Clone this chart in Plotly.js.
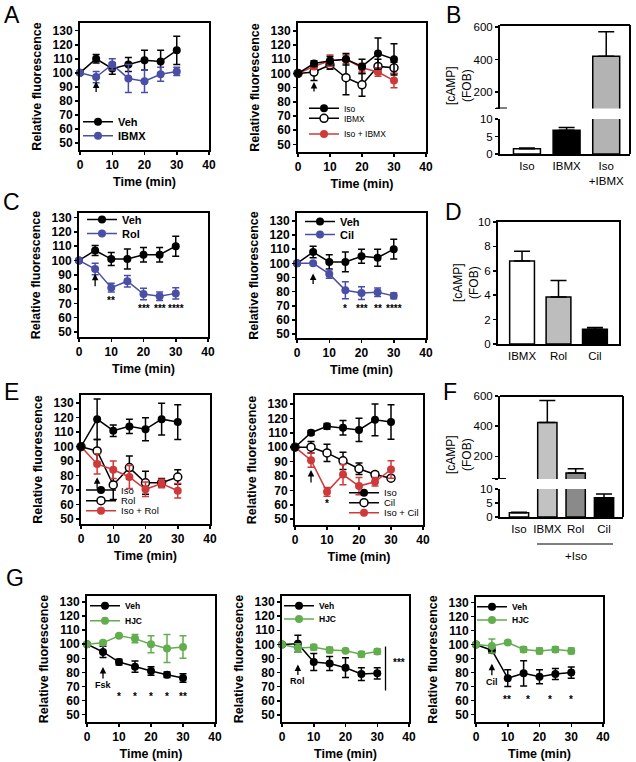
<!DOCTYPE html>
<html><head><meta charset="utf-8">
<script src="https://cdn.plot.ly/plotly-3.0.1.min.js"></script>
<style>html,body{margin:0;padding:0;background:#fff}</style>
</head><body><div id="chart" style="width:636px;height:762px"></div>
<script>
const W = 636, H = 762;
const FONT = 'Liberation Sans, Arial, Helvetica, sans-serif';
const BLUE = '#4a4fa6', RED = '#d0393a', GREEN = '#62ad4e';

const time = [0, 5, 10, 15, 20, 25, 30];

// A (left): Veh vs IBMX
const aVeh = [100, 110, 103, 106, 109, 108, 116];
const aVehErr = [0, 3, 4, 5, 7, 8, 10];
const aIbmx = [100, 97, 106, 96, 94, 99, 101];
const aIbmxErr = [0, 4, 4, 10, 8, 5, 3];
// A (right): Iso, IBMX, Iso + IBMX
const arIso = [100, 107, 109, 110, 105, 114, 110];
const arIsoErr = [0, 2, 3, 4, 5, 11, 11];
const arIbmx = [100, 101, 106, 97, 92, 105, 104];
const arIbmxErr = [0, 6, 3, 12, 8, 5, 4];
const arIsoIbmx = [100, 105, 109, 110, 104, 101, 95];
const arIsoIbmxErr = [0, 2, 4, 3, 3, 3, 5];
// B
const bCats = ['Iso', 'IBMX', 'Iso<br>+IBMX'];
const bVals = [1.5, 6.8, 420];
const bErr = [0.2, 0.8, 150];
// C (left): Veh vs Rol
const cVeh = [100, 107, 101, 101, 104, 104, 110];
const cVehErr = [0, 3.5, 4.5, 7, 5, 5, 7];
const cRol = [100, 94, 81, 85.5, 76.5, 75, 77];
const cRolErr = [0, 4, 3, 4, 4, 3, 4];
const cStarX = [10, 20, 25, 30];
const cStarText = ['**', '***', '***', '****'];
// C (right): Veh vs Cil
const crVeh = [100, 108, 101, 101, 105, 104, 110];
const crVehErr = [0, 4, 5, 7, 5, 6, 7];
const crCil = [100, 100, 92.5, 81, 79, 79.5, 77];
const crCilErr = [0, 0, 3, 6, 4.5, 3, 2];
const crStarX = [15, 20, 25, 30];
const crStarText = ['*', '***', '**', '****'];
// D
const dCats = ['IBMX', 'Rol', 'Cil'];
const dVals = [6.8, 3.85, 1.2];
const dErr = [0.8, 1.35, 0.15];
// E (left): Iso, Rol, Iso + Rol
const eIso = [100, 119, 111, 114, 112, 119, 117];
const eIsoErr = [0, 14, 4, 5, 8, 11, 12];
const eRol = [100, 97, 73.5, 85.5, 75, 75, 79];
const eRolErr = [0, 8, 10, 8, 8, 3, 5];
const eIsoRol = [100, 88, 84, 79, 70.5, 74.5, 69.5];
const eIsoRolErr = [0, 7, 6, 8, 5, 3, 5];
// E (right): Iso, Cil, Iso + Cil
const erIso = [100, 110, 114.5, 113.5, 112, 119, 117.5];
const erIsoErr = [0, 1.5, 2, 5, 8, 11, 12];
const erCil = [100, 100, 96, 90.5, 85, 81, 78.5];
const erCilErr = [0, 4, 6, 6, 4, 2, 1.5];
const erIsoCil = [100, 91, 69, 81, 73, 76, 84.5];
const erIsoCilErr = [0, 5, 3, 7, 6, 3, 6];
// F
const fCats = ['Iso', 'IBMX', 'Rol', 'Cil'];
const fVals = [1.5, 425, 90, 6.9];
const fErr = [0.2, 145, 28, 1.3];
// G (left): Fsk
const gVeh = [100, 94.5, 87.3, 84, 81, 78.3, 76];
const gVehErr = [0, 4, 2, 4, 3, 2, 3];
const gHjc = [100, 101, 106, 104, 100, 97, 98];
const gHjcErr = [0, 1, 1, 3, 6, 10, 8];
const gStarX = [10, 15, 20, 25, 30];
const gStarText = ['*', '*', '*', '*', '**'];
// G (middle): Rol
const gmVeh = [100, 100.5, 87.5, 86.5, 83.5, 79, 79.5];
const gmVehErr = [0, 6, 6, 5, 7, 4.5, 4];
const gmHjc = [100, 97.5, 98, 96, 95.5, 93, 95];
const gmHjcErr = [0, 3, 2, 2, 1, 2, 2];
// G (right): Cil
const grVeh = [100, 96, 76, 79.5, 77, 79, 80];
const grVehErr = [0, 2, 6, 9, 5, 4, 4];
const grHjc = [100, 99, 101.5, 96.5, 95.5, 96.5, 95.5];
const grHjcErr = [0, 5, 1, 2, 2, 2, 2];
const grStarX = [9.7, 16.5, 23.3, 30];
const grStarText = ['**', '*', '*', '*'];

// ---------- helpers ----------
const layout = {
  width: W, height: H, margin: {l: 0, r: 0, t: 0, b: 0},
  paper_bgcolor: 'white', plot_bgcolor: 'white',
  font: {family: FONT, color: 'black'},
  showlegend: true, annotations: [], shapes: []
};
const data = [];
const xid = i => i === 1 ? 'x' : 'x' + i;
const yid = i => i === 1 ? 'y' : 'y' + i;
const xkey = i => i === 1 ? 'xaxis' : 'xaxis' + i;
const ykey = i => i === 1 ? 'yaxis' : 'yaxis' + i;
const px = p => p / W;
const py = p => 1 - p / H;

function lineAxes(xi, yi, box, yr) {
  const [l, t, r, b] = box;
  layout[xkey(xi)] = {
    domain: [px(l), px(r)], range: [0, 40], anchor: yid(yi),
    showline: true, linewidth: 2, linecolor: 'black', mirror: true,
    ticks: 'outside', ticklen: 3, tickwidth: 1.5, tickcolor: 'black',
    tickvals: [0, 10, 20, 30, 40], showgrid: false, zeroline: false,
    tickfont: {family: FONT, size: 12, weight: 700, color: 'black'},
    title: {text: 'Time (min)', font: {family: FONT, size: 12.5, weight: 700, color: 'black'}, standoff: 6}
  };
  layout[ykey(yi)] = {
    domain: [py(b), py(t)], range: yr, anchor: xid(xi),
    showline: true, linewidth: 2, linecolor: 'black', mirror: true,
    ticks: 'outside', ticklen: 3, tickwidth: 1.5, tickcolor: 'black',
    tickvals: [50, 60, 70, 80, 90, 100, 110, 120, 130], showgrid: false, zeroline: false,
    tickfont: {family: FONT, size: 12, weight: 700, color: 'black'},
    title: {text: 'Relative fluorescence', font: {family: FONT, size: 12.5, weight: 700, color: 'black'}, standoff: 8}
  };
}

let legN = 0;
function legend(textX, yPx, size, bold) {
  legN++;
  const key = legN === 1 ? 'legend' : 'legend' + legN;
  layout[key] = {
    x: px(textX - 37), y: py(yPx), xanchor: 'left', yanchor: 'middle',
    bgcolor: 'rgba(0,0,0,0)', borderwidth: 0,
    font: {family: FONT, size: size, weight: bold ? 700 : 400, color: 'black'}
  };
  return key;
}

function series(xi, yi, y, err, color, name, open, leg) {
  const c = open ? 'black' : color;
  data.push({
    type: 'scatter', mode: 'lines+markers', x: time, y: y, name: name,
    xaxis: xid(xi), yaxis: yid(yi), legend: leg, cliponaxis: false,
    line: {color: c, width: 1.5},
    marker: {size: 8, color: open ? 'white' : color, line: {color: c, width: open ? 1.5 : 0}},
    error_y: {type: 'data', array: err, visible: true, color: c, thickness: 1.5, width: 3.5}
  });
}

function arrow(xi, yi, yv, len, text) {
  layout.annotations.push({
    xref: xid(xi), yref: yid(yi), x: 5, y: yv, ax: 0, ay: len, text: text || '',
    showarrow: true, arrowhead: 2, arrowsize: 1, arrowwidth: 1.3, arrowcolor: 'black',
    font: {family: FONT, size: 9, weight: 700, color: 'black'}
  });
}

function stars(xi, yi, xs, texts, yv) {
  xs.forEach((x, k) => layout.annotations.push({
    xref: xid(xi), yref: yid(yi), x: x, y: yv, text: texts[k], showarrow: false,
    xanchor: 'center', yanchor: 'middle',
    font: {family: FONT, size: 10, weight: 700, color: 'black'}
  }));
}

function letter(t, x, y) {
  layout.annotations.push({xref: 'paper', yref: 'paper', x: px(x), y: py(y), text: t,
    showarrow: false, font: {family: FONT, size: 23, color: 'black'}, xanchor: 'center', yanchor: 'middle'});
}

function barX(xi, yi, box, cats, xr) {
  const [l, r, b] = box;
  layout[xkey(xi)] = {
    domain: [px(l), px(r)], range: xr, anchor: yid(yi), type: 'category',
    showline: true, linewidth: 2, linecolor: 'black', ticks: '', showgrid: false, zeroline: false,
    tickfont: {family: FONT, size: 11.5, color: 'black'}
  };
}
function barY(xi, yi, top, bottom, yr, vals, text) {
  layout[ykey(yi)] = {
    domain: [py(bottom), py(top)], range: yr, anchor: xid(xi),
    showline: true, linewidth: 2, linecolor: 'black',
    ticks: 'outside', ticklen: 3, tickwidth: 1.5, tickcolor: 'black',
    tickvals: vals, ticktext: text, showgrid: false, zeroline: false,
    tickfont: {family: FONT, size: 11.5, color: 'black'}
  };
}
function bars(xi, yi, cats, vals, err, colors) {
  data.push({
    type: 'bar', x: cats, y: vals, xaxis: xid(xi), yaxis: yid(yi), width: 0.68,
    showlegend: false, hoverinfo: 'skip',
    marker: {color: colors, line: {color: 'black', width: 1.5}},
    error_y: {type: 'data', symmetric: false, array: err, arrayminus: err.map(() => 0),
      color: 'black', thickness: 1.5, width: 8}
  });
}
function frameLine(x0, y0, x1, y1) {
  layout.shapes.push({type: 'line', xref: 'paper', yref: 'paper', x0: px(x0), y0: py(y0), x1: px(x1), y1: py(y1),
    line: {color: 'black', width: 2}});
}
function yTitle(x, y, size) {
  layout.annotations.push({xref: 'paper', yref: 'paper', x: px(x), y: py(y), text: '[cAMP]<br>(FOB)',
    xanchor: 'center', yanchor: 'middle',
    textangle: -90, showarrow: false, font: {family: FONT, size: size, color: 'black'}});
}

// ---------- A left ----------
lineAxes(1, 1, [80, 23, 209, 150], [45, 135.5]);
series(1, 1, aVeh, aVehErr, 'black', 'Veh', false, legend(115, 121.7, 11, true));
series(1, 1, aIbmx, aIbmxErr, BLUE, 'IBMX', false, legend(115, 135.7, 11, true));
arrow(1, 1, 93.8, 12);

// ---------- A right ----------
lineAxes(2, 2, [298, 23, 426, 152], [44.6, 135.6]);
series(2, 2, arIbmx, arIbmxErr, 'black', 'IBMX', true, legend(341, 118.3, 8.5, false));
series(2, 2, arIsoIbmx, arIsoIbmxErr, RED, 'Iso + IBMX', false, legend(341, 134, 8.5, false));
series(2, 2, arIso, arIsoErr, 'black', 'Iso', false, legend(341, 108.3, 8.5, false));
arrow(2, 2, 94, 11);

// ---------- B ----------
barX(3, 4, [500, 630, 154], bCats, [-0.68, 2.6]);
barY(3, 3, 25, 108.5, [100, 612], [100, 200, 400, 600], ['', '200', '400', '600']);
barY(3, 4, 119, 154, [0, 10], [0, 5, 10], ['0', '5', '10']);
bars(3, 3, bCats, bVals, bErr, ['white', 'black', '#b3b3b3']);
bars(3, 4, bCats, bVals, bErr, ['white', 'black', '#b3b3b3']);
frameLine(500, 25, 630, 25);
frameLine(630, 25, 630, 154);
layout.shapes.push({type: 'line', xref: 'paper', yref: 'y3', x0: px(496), x1: px(507), y0: 100, y1: 100,
  line: {color: 'black', width: 2}});
yTitle(459, 86, 12);

// ---------- C left ----------
lineAxes(4, 5, [79, 213, 208, 337], [46.5, 133.2]);
series(4, 5, cVeh, cVehErr, 'black', 'Veh', false, legend(119, 219.5, 11, true));
series(4, 5, cRol, cRolErr, BLUE, 'Rol', false, legend(119, 233.5, 11, true));
arrow(4, 5, 90.8, 14);
stars(4, 5, cStarX.slice(0, 1), cStarText.slice(0, 1), 72);
stars(4, 5, cStarX.slice(1), cStarText.slice(1), 66.5);

// ---------- C right ----------
lineAxes(5, 6, [297, 213, 426, 338], [47.2, 135.6]);
series(5, 6, crVeh, crVehErr, 'black', 'Veh', false, legend(337, 221.5, 11, true));
series(5, 6, crCil, crCilErr, BLUE, 'Cil', false, legend(337, 234.5, 11, true));
arrow(5, 6, 92.8, 12);
stars(5, 6, crStarX, crStarText, 68);

// ---------- D ----------
barX(6, 7, [498, 619, 344], dCats, [-0.66, 2.66]);
barY(6, 7, 222, 344, [0, 10], [0, 2, 4, 6, 8, 10], ['0', '2', '4', '6', '8', '10']);
layout[xkey(6)].mirror = true;
layout[ykey(7)].mirror = true;
bars(6, 7, dCats, dVals, dErr, ['white', '#bdbdbd', 'black']);
yTitle(466, 282, 12);

// ---------- E left ----------
lineAxes(7, 8, [81, 395, 210, 524], [46.5, 135.7]);
series(7, 8, eRol, eRolErr, 'black', 'Rol', true, legend(118, 500.7, 9.5, false));
series(7, 8, eIsoRol, eIsoRolErr, RED, 'Iso + Rol', false, legend(118, 510.7, 9.5, false));
series(7, 8, eIso, eIsoErr, 'black', 'Iso', false, legend(118, 490, 9.5, false));
arrow(7, 8, 78.8, 13);

// ---------- E right ----------
lineAxes(8, 9, [295, 395, 423, 525], [46, 136.2]);
series(8, 9, erCil, erCilErr, 'black', 'Cil', true, legend(381, 502.7, 9.5, false));
series(8, 9, erIsoCil, erIsoCilErr, RED, 'Iso + Cil', false, legend(381, 512.7, 9.5, false));
series(8, 9, erIso, erIsoErr, 'black', 'Iso', false, legend(381, 492.7, 9.5, false));
arrow(8, 9, 84.2, 14);
stars(8, 9, [10], ['*'], 61);

// ---------- F ----------
barX(9, 11, [500, 623, 517], fCats, [-0.67, 3.67]);
barY(9, 10, 396, 479, [50, 600], [50, 200, 400, 600], ['', '200', '400', '600']);
barY(9, 11, 489, 517, [0, 10], [0, 5, 10], ['0', '5', '10']);
bars(9, 10, fCats, fVals, fErr, ['white', '#c2c2c2', '#8a8a8a', 'black']);
bars(9, 11, fCats, fVals, fErr, ['white', '#c2c2c2', '#8a8a8a', 'black']);
frameLine(500, 396, 623, 396);
frameLine(623, 396, 623, 517);
layout.shapes.push({type: 'line', xref: 'paper', yref: 'y10', x0: px(492), x1: px(506), y0: 50, y1: 50,
  line: {color: 'black', width: 2}});
layout.shapes.push({type: 'line', xref: 'paper', yref: 'paper', x0: px(537), x1: px(613), y0: py(544), y1: py(544),
  line: {color: 'black', width: 1.2}});
layout.annotations.push({xref: 'paper', yref: 'paper', x: px(576), y: py(556), text: '+Iso', showarrow: false,
  xanchor: 'center', yanchor: 'middle', font: {family: FONT, size: 11.5, color: 'black'}});
yTitle(459, 455, 12);

// ---------- G left ----------
lineAxes(10, 12, [87, 596, 215, 722], [44.7, 134.3]);
series(10, 12, gVeh, gVehErr, 'black', 'Veh', false, legend(122, 605.7, 8.5, true));
series(10, 12, gHjc, gHjcErr, GREEN, 'HJC', false, legend(122, 620.7, 8.5, true));
arrow(10, 12, 83.8, 18, 'Fsk');
stars(10, 12, gStarX, gStarText, 63);

// ---------- G middle ----------
lineAxes(11, 13, [282, 596, 409, 722], [45, 134.3]);
series(11, 13, gmVeh, gmVehErr, 'black', 'Veh', false, legend(316, 605.7, 8.5, true));
series(11, 13, gmHjc, gmHjcErr, GREEN, 'HJC', false, legend(316, 619, 8.5, true));
arrow(11, 13, 85.8, 17, 'Rol');
layout.shapes.push({type: 'line', xref: 'x11', yref: 'y13', x0: 32.6, x1: 32.6, y0: 67.3, y1: 98.5,
  line: {color: 'black', width: 1.3}});
stars(11, 13, [37], ['***'], 87.5);

// ---------- G right ----------
lineAxes(12, 14, [476, 597, 603, 722], [44.7, 134]);
series(12, 14, grVeh, grVehErr, 'black', 'Veh', false, legend(509, 606.7, 8.5, true));
series(12, 14, grHjc, grHjcErr, GREEN, 'HJC', false, legend(509, 620, 8.5, true));
arrow(12, 14, 86.4, 18, 'Cil');
stars(12, 14, grStarX, grStarText, 61);

// ---------- panel letters ----------
letter('A', 12, 15); letter('B', 453, 15);
letter('C', 11, 202); letter('D', 453, 212);
letter('E', 11, 392); letter('F', 450, 392);
letter('G', 15, 578);

Plotly.newPlot('chart', data, layout, {staticPlot: true, displayModeBar: false});
</script>
</body></html>
